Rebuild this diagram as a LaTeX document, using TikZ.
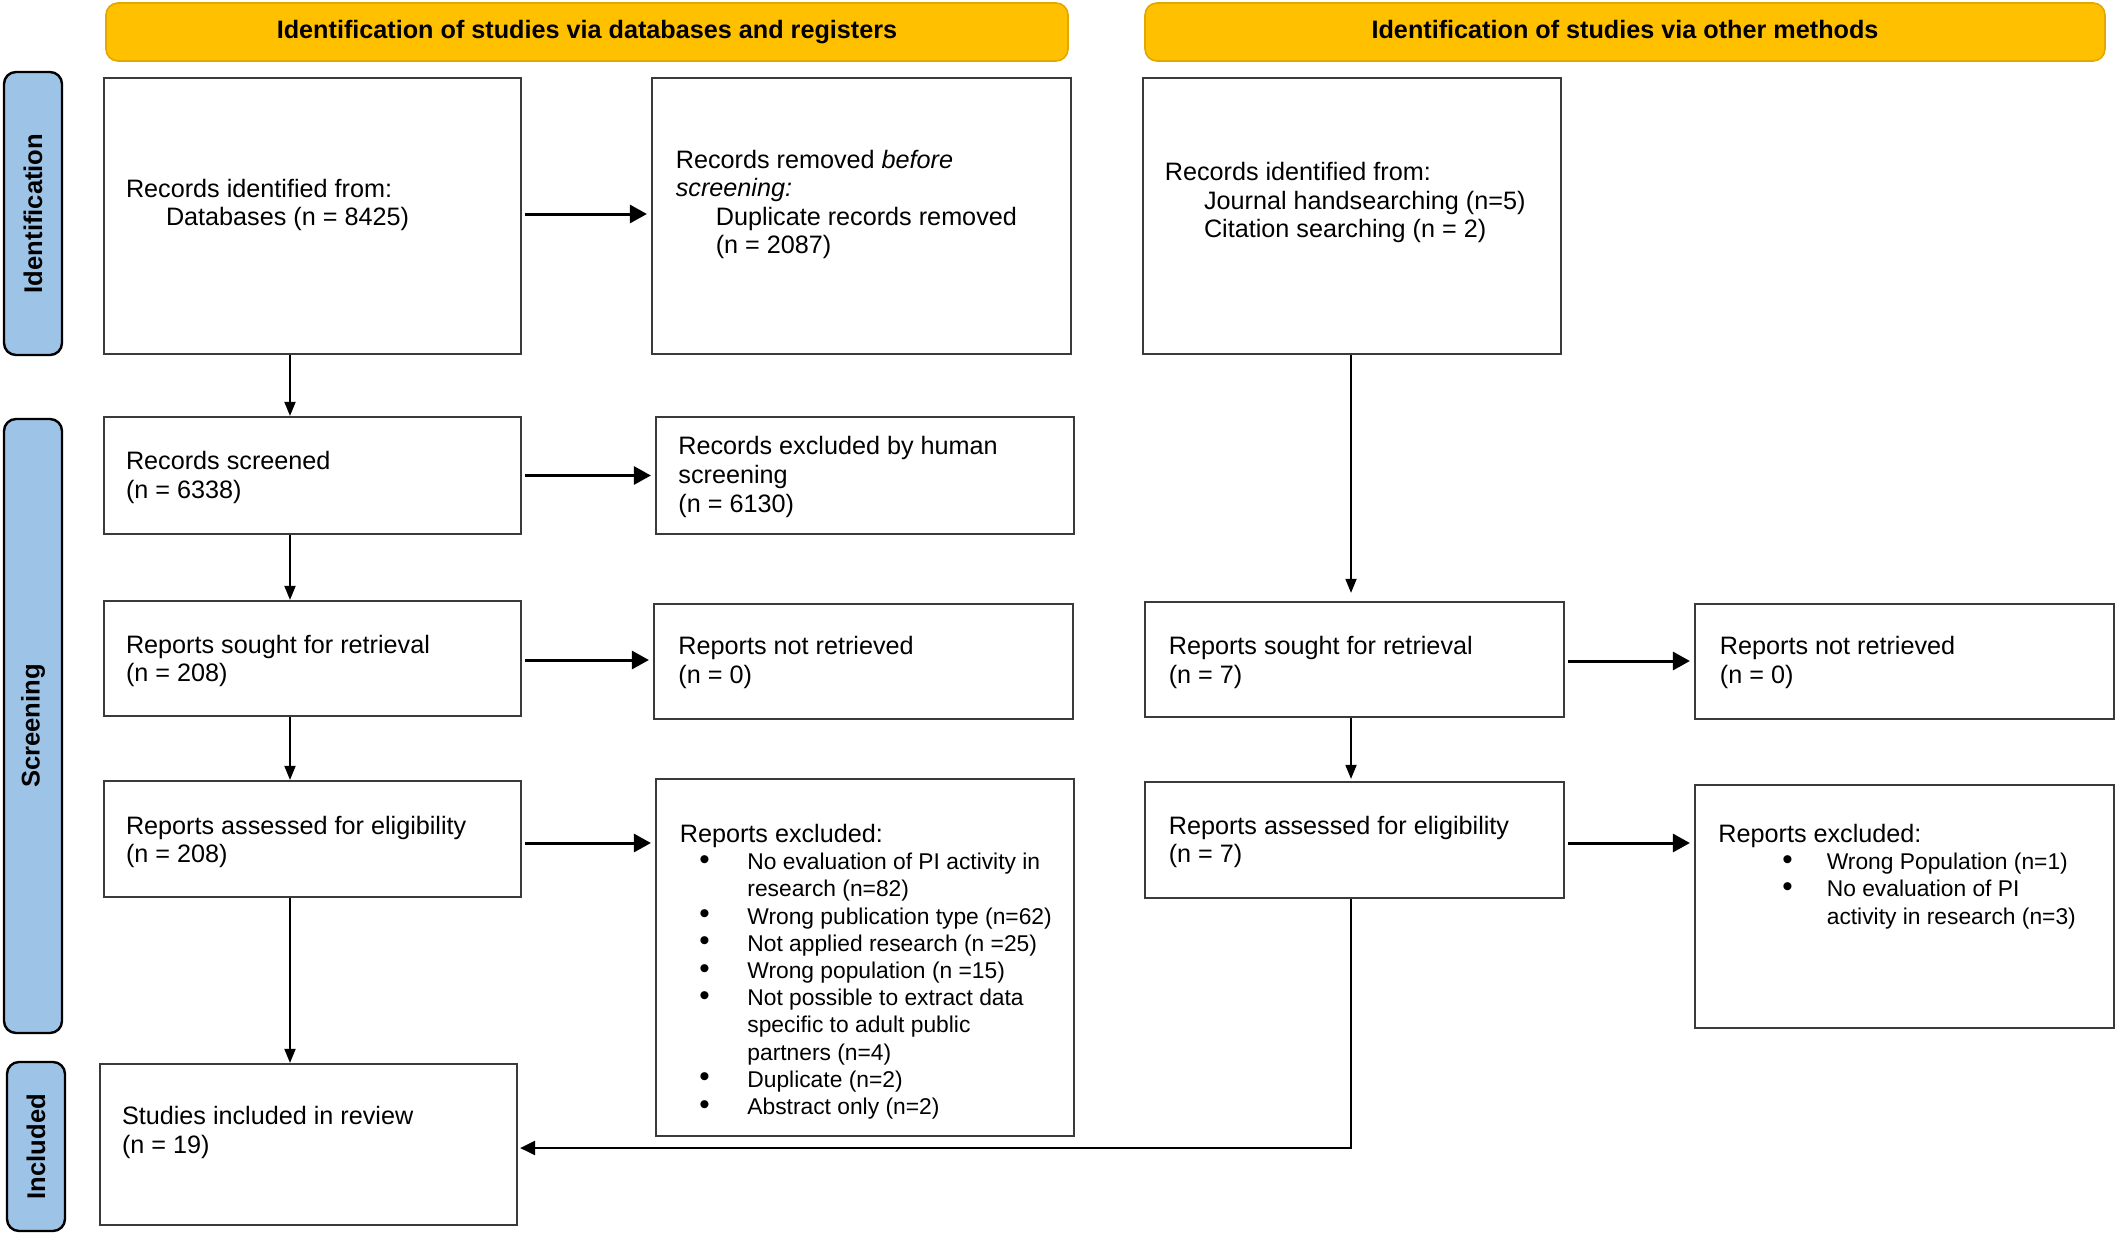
\documentclass[tikz,border=0pt]{standalone}
\usepackage{fontspec}
\setmainfont{Liberation Sans}
\usetikzlibrary{arrows.meta,calc}
\definecolor{hdrfill}{RGB}{255,192,0}
\definecolor{hdrline}{RGB}{224,168,0}
\definecolor{sidefill}{RGB}{157,195,230}
\definecolor{boxline}{RGB}{58,58,58}
\newcommand{\txtlines}[1]{\begin{tabular}[t]{@{}l@{}}#1\end{tabular}}
\newcommand{\bul}{\raisebox{0.2pt}{\scalebox{1.3}{\textbullet}}}
\begin{document}
\begin{tikzpicture}[x=0.5pt,y=-0.5pt,
  box/.style={draw=boxline, line width=1.1pt, fill=white, inner sep=0pt},
  txt/.style={anchor=base west, inner sep=0pt, font=\fontsize{12.6}{14.3}\selectfont},
  listtxt/.style={anchor=base west, inner sep=0pt, font=\fontsize{11.4}{13.6}\selectfont},
  hdr/.style={draw=hdrline, line width=0.8pt, fill=hdrfill, rounded corners=6pt, inner sep=0pt, text height=9.2pt, text depth=2.6pt, font=\fontsize{12.6}{14}\selectfont\bfseries},
  side/.style={draw=black, line width=1.2pt, fill=sidefill, rounded corners=6pt, inner sep=0pt, rotate=90, minimum height=29pt, font=\fontsize{12.8}{14}\selectfont\bfseries},
  harr/.style={line width=1.5pt, -{Triangle[length=8.5pt,width=9pt]}, shorten <=1.5pt, shorten >=2pt},
  varr/.style={line width=0.9pt, -{Triangle[length=7pt,width=5.5pt]}},
  larr/.style={line width=1.2pt, -{Triangle[length=7.5pt,width=7pt]}, shorten >=1pt}
]
\useasboundingbox (0,0) rectangle (2118,1236);

% headers
\node[hdr, minimum width=481pt, minimum height=29pt] (H1) at (587,32) {Identification of studies via databases and registers};
\node[hdr, minimum width=480pt, minimum height=29pt] (H2) at (1625,32) {Identification of studies via other methods};

% side labels
\node[side, minimum width=141.5pt] (S1) at (33,213.5) {Identification};
\node[side, minimum width=307pt] (S2) at (33,726) {Screening};
\node[side, minimum width=84.5pt] (S3) at (36,1146.5) {Included};

% boxes
\node[box, minimum width=208.5pt, minimum height=138pt] (A) at (312.5,216) {};
\node[box, minimum width=209.5pt, minimum height=138pt] (B) at (861.5,216) {};
\node[box, minimum width=209pt, minimum height=138pt] (C) at (1352,216) {};
\node[box, minimum width=208.5pt, minimum height=58.5pt] (D) at (312.5,475.5) {};
\node[box, minimum width=209pt, minimum height=58.5pt] (E) at (865,475.5) {};
\node[box, minimum width=208.5pt, minimum height=57.5pt] (F) at (312.5,658.5) {};
\node[box, minimum width=209.5pt, minimum height=57.5pt] (G) at (863.5,661.5) {};
\node[box, minimum width=209.5pt, minimum height=57.5pt] (H) at (1354.5,659.5) {};
\node[box, minimum width=209.5pt, minimum height=57.5pt] (I) at (1904.5,661.5) {};
\node[box, minimum width=208.5pt, minimum height=58pt] (J) at (312.5,839) {};
\node[box, minimum width=209pt, minimum height=178.5pt] (K) at (865,957.5) {};
\node[box, minimum width=209.5pt, minimum height=58pt] (L) at (1354.5,840) {};
\node[box, minimum width=209.5pt, minimum height=121.5pt] (M) at (1904.5,906.5) {};
\node[box, minimum width=208.5pt, minimum height=80.5pt] (N) at (308.5,1144.5) {};

% texts
\node[txt] (At) at (125.6,197) {\txtlines{Records identified from:\\\hspace{20pt}Databases (n = 8425)}};
\node[txt] (Bt) at (675.4,168) {\txtlines{Records removed \textit{before}\\\textit{screening:}\\\hspace{20pt}Duplicate records removed\\\hspace{20pt}(n = 2087)}};
\node[txt] (Ct) at (1164.4,180.5) {\txtlines{Records identified from:\\\hspace{19.6pt}Journal handsearching (n=5)\\\hspace{19.6pt}Citation searching (n = 2)}};
\node[txt] (Dt) at (125.6,469.6) {\txtlines{Records screened\\(n = 6338)}};
\node[txt] (Et) at (678,454.8) {\txtlines{Records excluded by human\\screening\\(n = 6130)}};
\node[txt] (Ft) at (125.6,653.3) {\txtlines{Reports sought for retrieval\\(n = 208)}};
\node[txt] (Gt) at (678,654.7) {\txtlines{Reports not retrieved\\(n = 0)}};
\node[txt] (Ht) at (1168.4,654.7) {\txtlines{Reports sought for retrieval\\(n = 7)}};
\node[txt] (It) at (1719.5,654.7) {\txtlines{Reports not retrieved\\(n = 0)}};
\node[txt] (Jt) at (125.6,834.3) {\txtlines{Reports assessed for eligibility\\(n = 208)}};
\node[txt] (Lt) at (1168.4,834.3) {\txtlines{Reports assessed for eligibility\\(n = 7)}};
\node[txt] (Nt) at (121.6,1124.8) {\txtlines{Studies included in review\\(n = 19)}};
\node[listtxt] (Kt) at (679.4,842.4) {\begin{tabular}[t]{@{\hspace{9.8pt}}p{24pt}@{}l@{}}
\multicolumn{2}{@{}l@{}}{\fontsize{12.6}{14}\selectfont Reports excluded:}\\
\bul & No evaluation of PI activity in\\
 & research (n=82)\\
\bul & Wrong publication type (n=62)\\
\bul & Not applied research (n =25)\\
\bul & Wrong population (n =15)\\
\bul & Not possible to extract data\\
 & specific to adult public\\
 & partners (n=4)\\
\bul & Duplicate (n=2)\\
\bul & Abstract only (n=2)
\end{tabular}};
\node[listtxt] (Mt) at (1718,842.4) {\begin{tabular}[t]{@{\hspace{32pt}}p{22.2pt}@{}l@{}}
\multicolumn{2}{@{}l@{}}{\fontsize{12.6}{14}\selectfont Reports excluded:}\\
\bul & Wrong Population (n=1)\\
\bul & No evaluation of PI\\
 & activity in research (n=3)
\end{tabular}};

% horizontal arrows
\draw[harr] (A.east |- 0,214) -- (B.west |- 0,214);
\draw[harr] (D.east) -- (D.east -| E.west);
\draw[harr] (F.east |- 0,660) -- (G.west |- 0,660);
\draw[harr] (J.east |- 0,843) -- (K.west |- 0,843);
\draw[harr] (H.east |- 0,661) -- (I.west |- 0,661);
\draw[harr] (L.east |- 0,843) -- (M.west |- 0,843);

% vertical arrows, left column
\coordinate (a1) at ([xshift=-11.25pt]A.south);
\coordinate (d1) at ([xshift=-11.25pt]D.south);
\coordinate (f1) at ([xshift=-11.25pt]F.south);
\coordinate (j1) at ([xshift=-11.25pt]J.south);
\draw[varr] (a1) -- (a1 |- D.north);
\draw[varr] (d1) -- (d1 |- F.north);
\draw[varr] (f1) -- (f1 |- J.north);
\draw[varr] (j1) -- (j1 |- N.north);

% vertical arrows, right column
\coordinate (c1) at ([xshift=-0.5pt]C.south);
\coordinate (h1) at ([xshift=-1.75pt]H.south);
\coordinate (l1) at ([xshift=-1.75pt]L.south);
\coordinate (n1) at ([yshift=-1.75pt]N.east);
\draw[varr, shorten >=4pt] (c1) -- (c1 |- H.north);
\draw[varr, shorten >=1pt] (h1) -- (h1 |- L.north);
\draw[larr] (l1) |- (n1);
\end{tikzpicture}
\end{document}
